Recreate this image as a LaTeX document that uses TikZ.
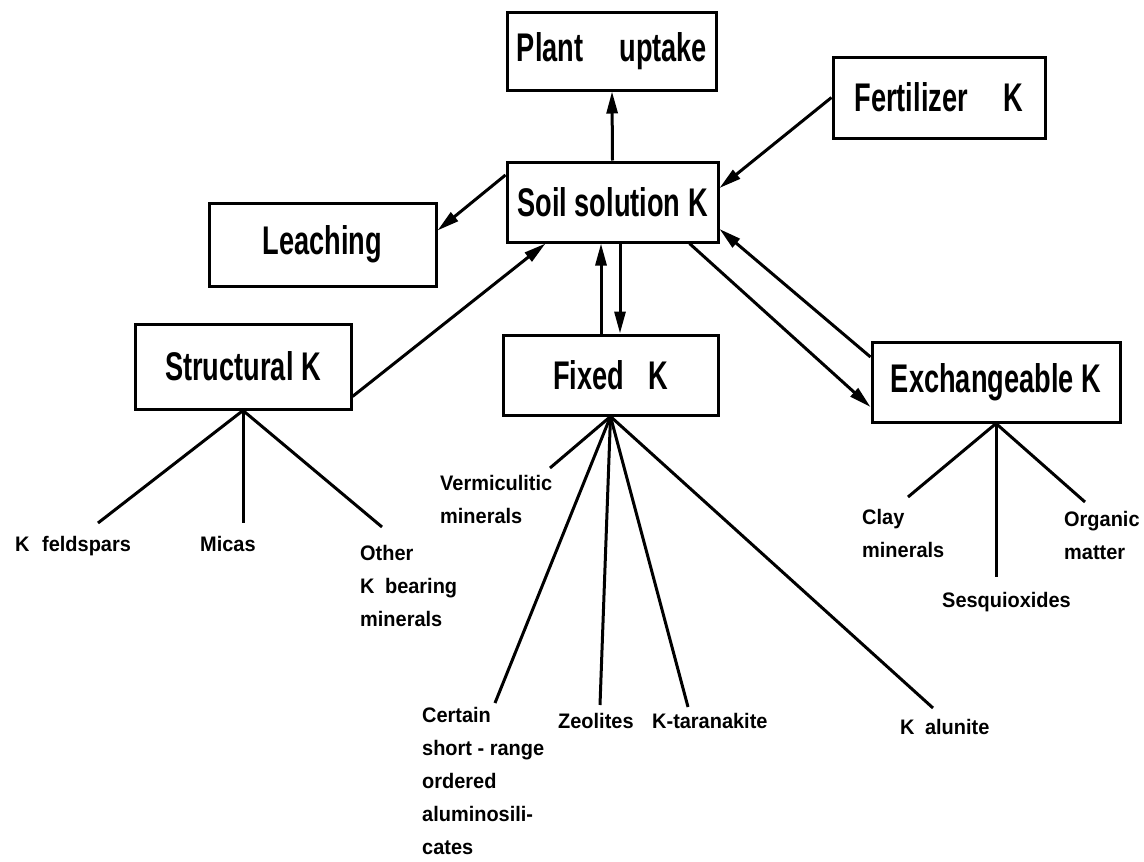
\documentclass[tikz,border=0pt]{standalone}
\usepackage{fontspec}
\setmainfont{Liberation Sans}
\newfontfamily\boxfont[FakeStretch=0.68]{Liberation Sans}
\newfontfamily\lblfont[FakeStretch=0.95]{Liberation Sans}
\usetikzlibrary{arrows.meta}
\tikzset{
  box/.style={draw, line width=3pt, inner sep=0pt, font=\boxfont\bfseries\fontsize{40}{44}\selectfont},
  lbl/.style={inner sep=0pt, anchor=north west, align=left, font=\lblfont\bfseries\fontsize{21}{33}\selectfont},
  conn/.style={line width=3pt},
  arr/.style={conn, -{Triangle[length=22pt,width=11pt]}},
}
\begin{document}
\begin{tikzpicture}[x=1pt,y=-1pt]
\useasboundingbox (0,0) rectangle (1144,862);
% boxes
\node[box, minimum width=209pt, minimum height=78pt] (plant) at (612,51) {Plant\hspace{0.9em}uptake};
\node[box, minimum width=212pt, minimum height=81pt] (fert) at (939,97.5) {Fertilizer\hspace{0.9em}K};
\node[box, minimum width=211pt, minimum height=80pt] (soil) at (612.5,202) {Soil solution K};
\node[box, minimum width=227pt, minimum height=83pt] (leach) at (322.5,244.5) {Leaching};
\node[box, minimum width=216pt, minimum height=85pt] (struct) at (243,366.5) {Structural K};
\node[box, minimum width=215pt, minimum height=80pt] (fixed) at (610.5,375) {Fixed\hspace{0.6em}K};
\node[box, minimum width=248pt, minimum height=80pt] (exch) at (996,382) {Exchangeable K};
% labels
\node[lbl] (kf) at (15,536) {K\hspace{0.6em}feldspars};
\node[lbl] (micas) at (200,536) {Micas};
\node[lbl] (other) at (360,545) {Other\\K\hspace{0.5em}bearing\\minerals};
\node[lbl] (verm) at (440,475) {Vermiculitic\\minerals};
\node[lbl] (cert) at (422,707) {Certain\\short - range\\ordered\\aluminosili-\\cates};
\node[lbl] (zeol) at (558,713) {Zeolites};
\node[lbl] (ktar) at (652,713) {K-taranakite};
\node[lbl] (kal) at (900,719) {K\hspace{0.5em}alunite};
\node[lbl] (clay) at (862,509) {Clay\\minerals};
\node[lbl] (sesq) at (942,592) {Sesquioxides};
\node[lbl] (org) at (1064,511) {Organic\\matter};
% helper coordinates
\coordinate (upx) at (601,0);
\coordinate (dnx) at (620,0);
\coordinate (ekf) at (98,523);
\coordinate (emi) at (243,523);
\coordinate (eot) at (382,527);
\coordinate (eve) at (550,468);
\coordinate (ece) at (495,703);
\coordinate (eze) at (600,705);
\coordinate (ekt) at (688,707);
\coordinate (eka) at (933,708);
\coordinate (ecl) at (908,497);
\coordinate (ese) at (996,577);
\coordinate (eor) at (1085,502);
% arrows
\draw[arr] (soil.north) -- (plant.south);
\draw[arr] (fert.west) -- ([yshift=14pt]soil.east);
\draw[arr] ([yshift=27pt]soil.west) -- ([yshift=14pt]leach.east);
\draw[arr] ([yshift=-30pt]struct.east) -- ([xshift=-67pt]soil.south);
\draw[arr] (fixed.north -| upx) -- (soil.south -| upx);
\draw[arr] (soil.south -| dnx) -- (fixed.north -| dnx);
\draw[arr] ([yshift=25pt]exch.west) -- ([yshift=-27pt]soil.east);
\draw[arr] ([xshift=-30pt]soil.south east) -- ([yshift=-25pt]exch.west);
% branches
\draw[conn] (ekf) -- (struct.south) -- (eot);
\draw[conn] (struct.south) -- (emi);
\draw[conn] (fixed.south) -- (eve);
\draw[conn] (fixed.south) -- (ece);
\draw[conn] (fixed.south) -- (eze);
\draw[conn] (fixed.south) -- (ekt);
\draw[conn] (fixed.south) -- (eka);
\draw[conn] (ecl) -- (exch.south) -- (eor);
\draw[conn] (exch.south) -- (ese);
\end{tikzpicture}
\end{document}
